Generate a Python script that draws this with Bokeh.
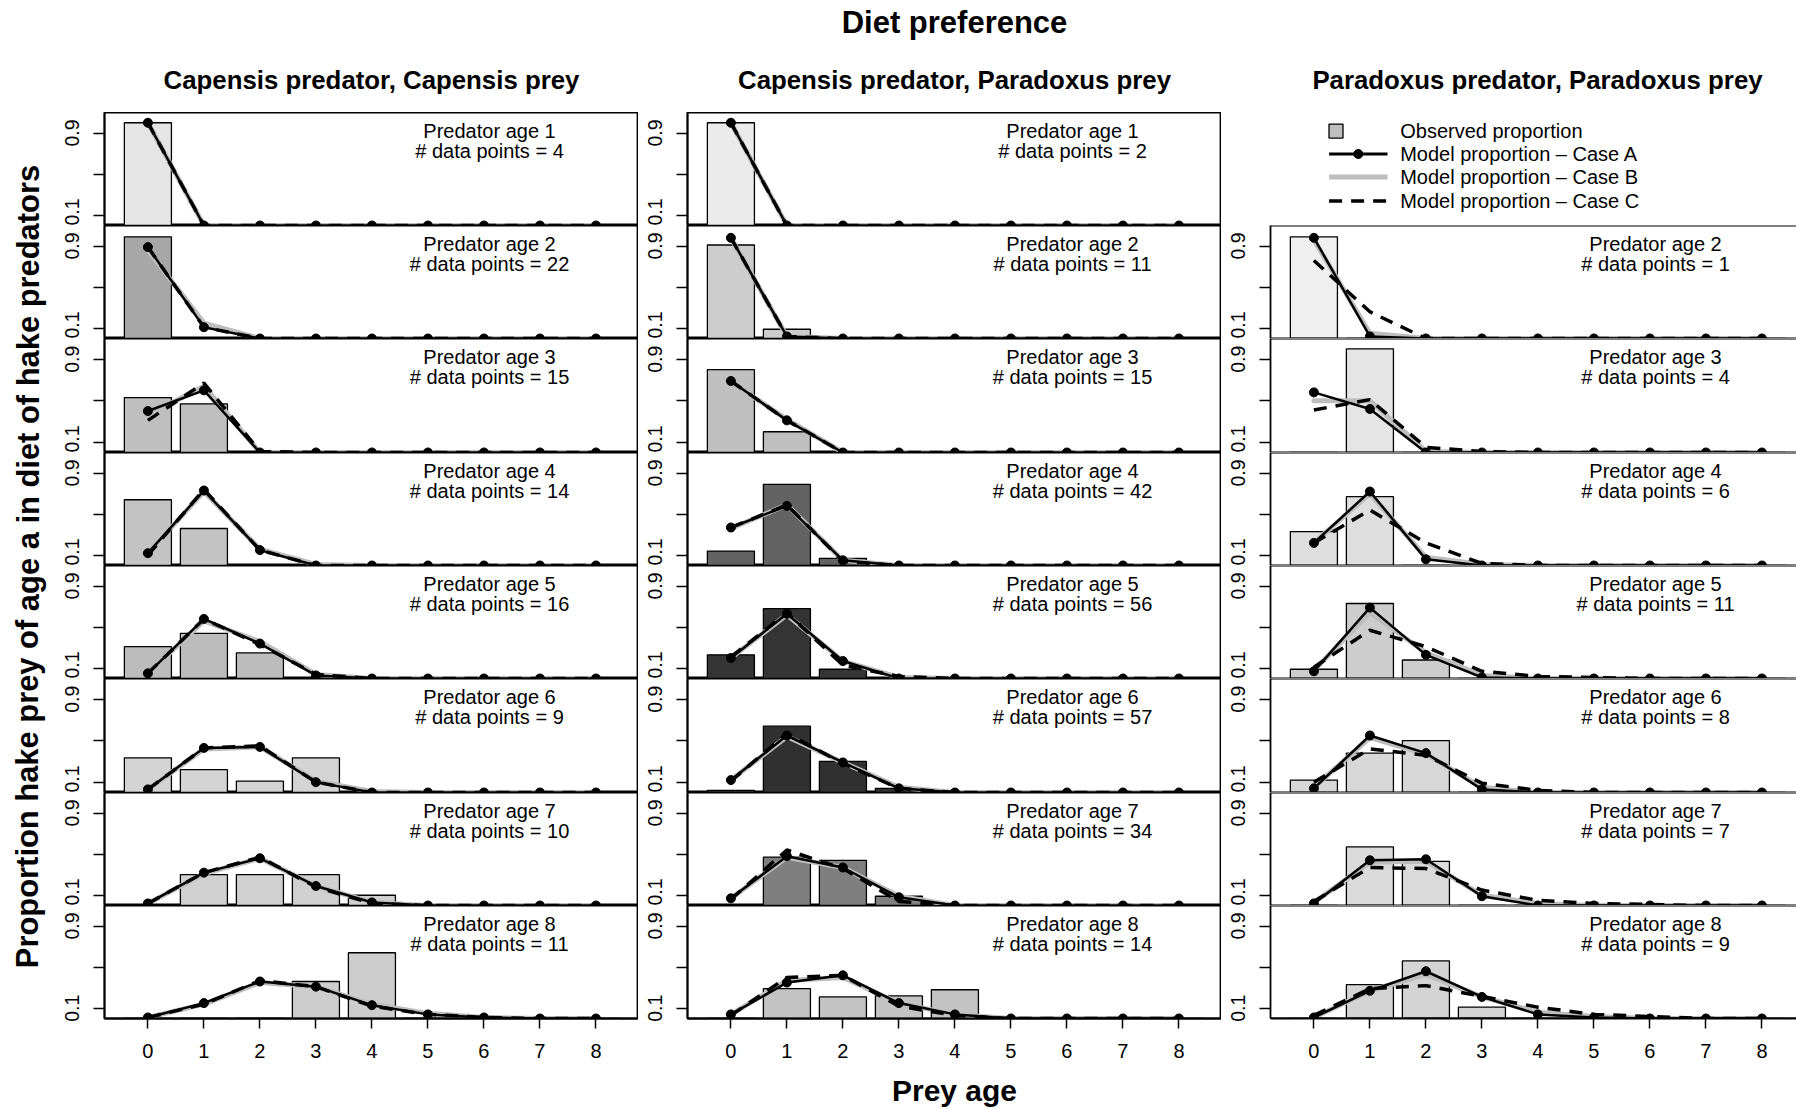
from bokeh.plotting import figure
from bokeh.models import Range1d, FixedTicker, Label, Span
from bokeh.layouts import row, column
from bokeh.embed import file_html
from bokeh.resources import INLINE

# ---------------- data ----------------
prey_age = [0, 1, 2, 3, 4, 5, 6, 7, 8]

main_title = "Diet preference"
col_titles = ["Capensis predator, Capensis prey",
              "Capensis predator, Paradoxus prey",
              "Paradoxus predator, Paradoxus prey"]
x_title = "Prey age"
y_title = "Proportion hake prey of age a in diet of hake predators"
legend_labels = ["Observed proportion", "Model proportion \u2013 Case A",
                 "Model proportion \u2013 Case B", "Model proportion \u2013 Case C"]

# Capensis predator, Capensis prey
cc_pred_age = [1, 2, 3, 4, 5, 6, 7, 8]
cc_n = [4, 22, 15, 14, 16, 9, 10, 11]
cc_obs = [
    [1.00, 0, 0, 0, 0, 0, 0, 0, 0],
    [0.99, 0, 0, 0, 0, 0, 0, 0, 0],
    [0.53, 0.47, 0, 0, 0, 0, 0, 0, 0],
    [0.64, 0.36, 0, 0, 0, 0, 0, 0, 0],
    [0.31, 0.44, 0.25, 0, 0, 0, 0, 0, 0],
    [0.335, 0.22, 0.11, 0.335, 0, 0, 0, 0, 0],
    [0, 0.30, 0.30, 0.30, 0.10, 0, 0, 0, 0],
    [0, 0, 0, 0.36, 0.64, 0, 0, 0, 0],
]
cc_A = [
    [1.00, 0, 0, 0, 0, 0, 0, 0, 0],
    [0.89, 0.11, 0, 0, 0, 0, 0, 0, 0],
    [0.40, 0.60, 0, 0, 0, 0, 0, 0, 0],
    [0.12, 0.73, 0.15, 0, 0, 0, 0, 0, 0],
    [0.05, 0.58, 0.34, 0.03, 0, 0, 0, 0, 0],
    [0.03, 0.43, 0.44, 0.10, 0, 0, 0, 0, 0],
    [0.02, 0.32, 0.46, 0.19, 0.03, 0, 0, 0, 0],
    [0.01, 0.15, 0.36, 0.31, 0.13, 0.04, 0.01, 0, 0],
]
cc_B = [
    [1.00, 0, 0, 0, 0, 0, 0, 0, 0],
    [0.86, 0.15, 0, 0, 0, 0, 0, 0, 0],
    [0.36, 0.64, 0, 0, 0, 0, 0, 0, 0],
    [0.12, 0.72, 0.16, 0.01, 0, 0, 0, 0, 0],
    [0.05, 0.56, 0.36, 0.04, 0, 0, 0, 0, 0],
    [0.03, 0.42, 0.44, 0.11, 0.01, 0, 0, 0, 0],
    [0.02, 0.31, 0.46, 0.19, 0.03, 0, 0, 0, 0],
    [0.01, 0.14, 0.35, 0.31, 0.14, 0.05, 0.01, 0, 0],
]
cc_C = [
    [1.00, 0, 0, 0, 0, 0, 0, 0, 0],
    [0.89, 0.11, 0, 0, 0, 0, 0, 0, 0],
    [0.31, 0.67, 0.01, 0, 0, 0, 0, 0, 0],
    [0.10, 0.74, 0.15, 0, 0, 0, 0, 0, 0],
    [0.05, 0.58, 0.33, 0.04, 0, 0, 0, 0, 0],
    [0.03, 0.43, 0.45, 0.10, 0, 0, 0, 0, 0],
    [0.02, 0.32, 0.47, 0.18, 0.02, 0, 0, 0, 0],
    [0.01, 0.14, 0.37, 0.31, 0.12, 0.04, 0.01, 0, 0],
]

# Capensis predator, Paradoxus prey
cp_pred_age = [1, 2, 3, 4, 5, 6, 7, 8]
cp_n = [2, 11, 15, 42, 56, 57, 34, 14]
cp_obs = [
    [1.00, 0, 0, 0, 0, 0, 0, 0, 0],
    [0.91, 0.09, 0, 0, 0, 0, 0, 0, 0],
    [0.80, 0.20, 0, 0, 0, 0, 0, 0, 0],
    [0.14, 0.79, 0.07, 0, 0, 0, 0, 0, 0],
    [0.23, 0.68, 0.09, 0, 0, 0, 0, 0, 0],
    [0.02, 0.64, 0.30, 0.04, 0, 0, 0, 0, 0],
    [0, 0.47, 0.44, 0.09, 0, 0, 0, 0, 0],
    [0, 0.29, 0.21, 0.22, 0.28, 0, 0, 0, 0],
]
cp_A = [
    [1.00, 0, 0, 0, 0, 0, 0, 0, 0],
    [0.98, 0.02, 0, 0, 0, 0, 0, 0, 0],
    [0.69, 0.31, 0, 0, 0, 0, 0, 0, 0],
    [0.37, 0.58, 0.05, 0, 0, 0, 0, 0, 0],
    [0.20, 0.63, 0.17, 0, 0, 0, 0, 0, 0],
    [0.12, 0.55, 0.29, 0.04, 0, 0, 0, 0, 0],
    [0.07, 0.48, 0.37, 0.08, 0, 0, 0, 0, 0],
    [0.04, 0.35, 0.42, 0.15, 0.04, 0, 0, 0, 0],
]
cp_B = [
    [1.00, 0, 0, 0, 0, 0, 0, 0, 0],
    [0.98, 0.02, 0, 0, 0, 0, 0, 0, 0],
    [0.68, 0.32, 0, 0, 0, 0, 0, 0, 0],
    [0.36, 0.59, 0.05, 0, 0, 0, 0, 0, 0],
    [0.20, 0.62, 0.17, 0.01, 0, 0, 0, 0, 0],
    [0.12, 0.54, 0.29, 0.05, 0, 0, 0, 0, 0],
    [0.07, 0.47, 0.37, 0.09, 0, 0, 0, 0, 0],
    [0.04, 0.37, 0.40, 0.15, 0.04, 0, 0, 0, 0],
]
cp_C = [
    [1.00, 0, 0, 0, 0, 0, 0, 0, 0],
    [0.98, 0.02, 0, 0, 0, 0, 0, 0, 0],
    [0.69, 0.31, 0, 0, 0, 0, 0, 0, 0],
    [0.37, 0.59, 0.04, 0, 0, 0, 0, 0, 0],
    [0.21, 0.64, 0.13, 0.02, 0, 0, 0, 0, 0],
    [0.11, 0.57, 0.28, 0.04, 0, 0, 0, 0, 0],
    [0.06, 0.54, 0.36, 0.04, 0, 0, 0, 0, 0],
    [0.03, 0.40, 0.42, 0.12, 0.03, 0, 0, 0, 0],
]

# Paradoxus predator, Paradoxus prey
pp_pred_age = [2, 3, 4, 5, 6, 7, 8]
pp_n = [1, 4, 6, 11, 8, 7, 9]
pp_obs = [
    [0.99, 0, 0, 0, 0, 0, 0, 0, 0],
    [0, 1.00, 0, 0, 0, 0, 0, 0, 0],
    [0.33, 0.67, 0, 0, 0, 0, 0, 0, 0],
    [0.09, 0.73, 0.18, 0, 0, 0, 0, 0, 0],
    [0.12, 0.38, 0.50, 0, 0, 0, 0, 0, 0],
    [0, 0.57, 0.43, 0, 0, 0, 0, 0, 0],
    [0, 0.33, 0.56, 0.11, 0, 0, 0, 0, 0],
]
pp_A = [
    [0.98, 0.02, 0, 0, 0, 0, 0, 0, 0],
    [0.58, 0.42, 0, 0, 0, 0, 0, 0, 0],
    [0.22, 0.72, 0.06, 0, 0, 0, 0, 0, 0],
    [0.07, 0.69, 0.23, 0.01, 0, 0, 0, 0, 0],
    [0.04, 0.55, 0.38, 0.03, 0, 0, 0, 0, 0],
    [0.02, 0.44, 0.45, 0.09, 0, 0, 0, 0, 0],
    [0.01, 0.27, 0.46, 0.21, 0.04, 0.01, 0, 0, 0],
]
pp_B = [
    [0.96, 0.05, 0, 0, 0, 0, 0, 0, 0],
    [0.50, 0.50, 0.01, 0, 0, 0, 0, 0, 0],
    [0.22, 0.70, 0.08, 0.01, 0, 0, 0, 0, 0],
    [0.08, 0.64, 0.25, 0.03, 0, 0, 0, 0, 0],
    [0.05, 0.53, 0.37, 0.05, 0, 0, 0, 0, 0],
    [0.03, 0.42, 0.43, 0.10, 0.02, 0, 0, 0, 0],
    [0.01, 0.27, 0.43, 0.21, 0.06, 0.02, 0, 0, 0],
]
pp_C = [
    [0.76, 0.26, 0, 0, 0, 0, 0, 0, 0],
    [0.41, 0.51, 0.05, 0.01, 0, 0, 0, 0, 0],
    [0.22, 0.54, 0.22, 0.02, 0, 0, 0, 0, 0],
    [0.11, 0.47, 0.31, 0.07, 0.02, 0.01, 0, 0, 0],
    [0.10, 0.42, 0.36, 0.09, 0.02, 0, 0, 0, 0],
    [0.04, 0.37, 0.36, 0.15, 0.05, 0.02, 0.01, 0, 0],
    [0.03, 0.29, 0.32, 0.215, 0.11, 0.04, 0.02, 0, 0],
]

# ---------------- styling / layout ----------------
FONT = "Liberation Sans"
ROW_H = [113, 113, 114, 113, 113, 114, 113, 113]
FRAME_W = 534
X0, X1 = -0.775, 8.76
PX_PER_UNIT = FRAME_W / (X1 - X0)
COL3_W = 526
YLAB_W = 55
LEFT_B = 49
BOTTOM_B = 50
HEADER_H = 112
B_GRAY = "#bebebe"
TOTAL_W = YLAB_W + 2 * (LEFT_B + FRAME_W) + LEFT_B + COL3_W   # 1796
COLS_H = sum(ROW_H) + BOTTOM_B
FOOTER_H = 1109 - HEADER_H - COLS_H

A_W, B_W, C_W, DOT = 2.5, 5, 3.5, 9
C_DASH = "13 9"


def gray_for(n):
    g = 0.95 - n / 75.0
    v = int(round(max(0.0, min(1.0, g)) * 255))
    return "#%02x%02x%02x" % (v, v, v)


def make_panel(obs, a, b, c, n, age, h, frame_w, x_end, bottom, open_right):
    p = figure(title=None, frame_width=frame_w, frame_height=h,
               x_range=Range1d(X0, x_end), y_range=Range1d(0, 1.1),
               output_backend="svg", toolbar_location=None, tools="",
               x_axis_location="below" if bottom else None,
               y_axis_location="left",
               min_border_left=LEFT_B, min_border_right=0,
               min_border_top=0, min_border_bottom=BOTTOM_B if bottom else 0)
    p.grid.visible = False
    p.background_fill_color = "white"
    p.border_fill_color = "white"
    if open_right:
        p.outline_line_color = None
        for loc in (0, 1.1):
            p.add_layout(Span(location=loc, dimension="width", line_color="black",
                              line_width=1.8))
    else:
        p.outline_line_color = "black"
        p.outline_line_width = 1.8
        p.outline_line_alpha = 1.0

    yax = p.yaxis[0]
    yax.ticker = FixedTicker(ticks=[0.1, 0.9], minor_ticks=[0.5])
    yax.major_label_orientation = "vertical"
    yax.major_label_text_font = FONT
    yax.major_label_text_font_size = "19.5px"
    yax.major_label_text_color = "black"
    yax.major_tick_out = 11
    yax.major_tick_in = 0
    yax.minor_tick_out = 11
    yax.minor_tick_in = 0
    yax.minor_tick_line_color = "black"
    yax.minor_tick_line_width = 1.5
    yax.major_tick_line_width = 1.5
    yax.axis_line_width = 1.8
    yax.major_label_standoff = 14

    if bottom:
        xax = p.xaxis[0]
        xax.ticker = FixedTicker(ticks=prey_age)
        xax.major_label_text_font = FONT
        xax.major_label_text_font_size = "20px"
        xax.major_label_text_color = "black"
        xax.major_tick_out = 10
        xax.major_tick_in = 0
        xax.minor_tick_line_color = None
        xax.major_tick_line_width = 1.5
        xax.axis_line_width = 1.8
        xax.major_label_standoff = 15

    p.vbar(x=prey_age, top=obs, bottom=0, width=0.84, fill_color=gray_for(n),
           line_color="black", line_width=1.3)
    p.line(prey_age, b, line_color=B_GRAY, line_width=B_W, line_join="round",
           line_cap="round")
    p.line(prey_age, a, line_color="black", line_width=A_W, line_join="round")
    p.scatter(prey_age, a, size=DOT, color="black")
    p.line(prey_age, c, line_color="black", line_width=C_W, line_dash=C_DASH)

    p.add_layout(Label(x=6.1, y=1.1 - 18.5 * 1.1 / h, text="Predator age %d" % age,
                       text_align="center", text_baseline="middle",
                       text_font=FONT, text_font_size="20px", text_color="black"))
    p.add_layout(Label(x=6.1, y=1.1 - 38.5 * 1.1 / h, text="# data points = %d" % n,
                       text_align="center", text_baseline="middle",
                       text_font=FONT, text_font_size="20px", text_color="black"))
    return p


def blank(w, h, left=0):
    p = figure(title=None, frame_width=w, frame_height=h,
               x_range=Range1d(0, w), y_range=Range1d(0, h),
               output_backend="svg", toolbar_location=None, tools="",
               x_axis_location=None, y_axis_location=None, min_border=0,
               min_border_left=left)
    p.grid.visible = False
    p.outline_line_color = None
    p.background_fill_color = "white"
    p.border_fill_color = "white"
    return p


# header
header = blank(TOTAL_W, HEADER_H)
header.add_layout(Label(x=954, y=HEADER_H - 22, text=main_title, text_align="center",
                        text_baseline="middle", text_font=FONT, text_color="black",
                        text_font_style="bold", text_font_size="31px"))
col_centers = [YLAB_W + LEFT_B + FRAME_W / 2,
               YLAB_W + 2 * LEFT_B + FRAME_W * 1.5,
               YLAB_W + 3 * LEFT_B + FRAME_W * 2 + FRAME_W / 2]
for cx, t in zip(col_centers, col_titles):
    header.add_layout(Label(x=cx, y=HEADER_H - 79, text=t, text_align="center",
                            text_baseline="middle", text_font=FONT, text_color="black",
                            text_font_style="bold", text_font_size="25.8px"))

# y title
ylab = blank(YLAB_W, COLS_H)
ylab.add_layout(Label(x=27.5, y=COLS_H - (566 - HEADER_H), text=y_title,
                      angle=1.5707963, text_align="center", text_baseline="middle",
                      text_font=FONT, text_font_style="bold", text_color="black",
                      text_font_size="30.9px"))

# footer
footer = blank(TOTAL_W, FOOTER_H)
footer.add_layout(Label(x=954, y=FOOTER_H - (1090 - HEADER_H - COLS_H), text=x_title,
                        text_align="center", text_baseline="middle", text_font=FONT,
                        text_color="black", text_font_style="bold",
                        text_font_size="30px"))

# columns
col1 = [make_panel(cc_obs[i], cc_A[i], cc_B[i], cc_C[i], cc_n[i], cc_pred_age[i],
                   ROW_H[i], FRAME_W, X1, i == 7, False) for i in range(8)]
col2 = [make_panel(cp_obs[i], cp_A[i], cp_B[i], cp_C[i], cp_n[i], cp_pred_age[i],
                   ROW_H[i], FRAME_W, X1, i == 7, False) for i in range(8)]
x3_end = X0 + COL3_W / PX_PER_UNIT
col3 = [make_panel(pp_obs[i], pp_A[i], pp_B[i], pp_C[i], pp_n[i], pp_pred_age[i],
                   ROW_H[i + 1], COL3_W, x3_end, i == 6, True) for i in range(7)]

# legend panel (top of column 3), pixel units relative to the column-3 frame
LG_H = ROW_H[0]
lg = blank(COL3_W, LG_H, left=LEFT_B)
g_x0, g_x1 = 58.6, 117.0
text_x = 129.7
rows_y = [LG_H - 18.6, LG_H - 41.5, LG_H - 64.4, LG_H - 88.4]
lg.rect(x=[65.5], y=[rows_y[0]], width=14, height=14, fill_color=B_GRAY,
        line_color="black", line_width=1.3)
lg.line([g_x0, g_x1], [rows_y[1]] * 2, line_color="black", line_width=A_W + 0.5)
lg.scatter([(g_x0 + g_x1) / 2], [rows_y[1]], size=DOT, color="black")
lg.line([g_x0, g_x1], [rows_y[2]] * 2, line_color=B_GRAY, line_width=B_W)
lg.line([g_x0, g_x1], [rows_y[3]] * 2, line_color="black", line_width=C_W,
        line_dash=C_DASH)
for yy, t in zip(rows_y, legend_labels):
    lg.add_layout(Label(x=text_x, y=yy, text=t, text_align="left",
                        text_baseline="middle", text_font=FONT,
                        text_font_size="20px", text_color="black"))

layout = column(header,
                row(ylab, column(*col1), column(*col2), column(lg, *col3)),
                footer)

open("out.html", "w").write(file_html(layout, INLINE, "Diet preference"))
